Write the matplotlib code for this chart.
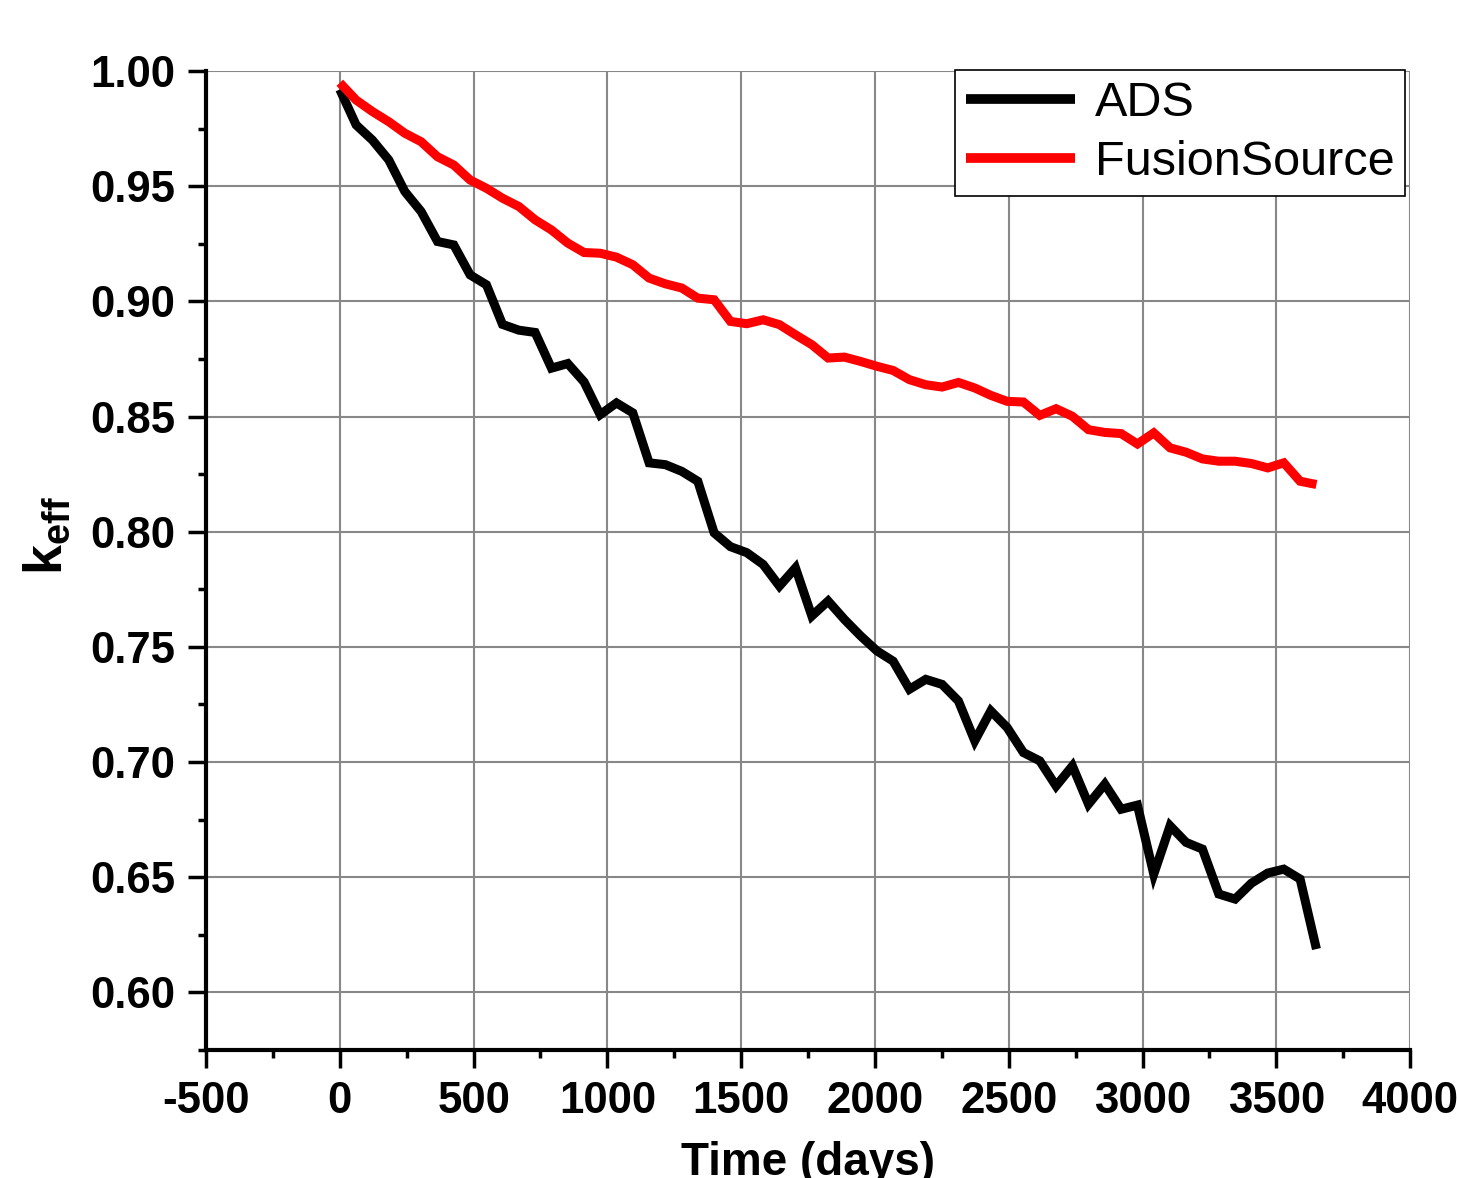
import matplotlib
matplotlib.use('Agg')
import matplotlib.pyplot as plt
from matplotlib.ticker import MultipleLocator, FormatStrFormatter

# burnup time steps (days)
time_days = [0, 61, 122, 183, 243, 304, 365, 426, 487, 548,
             608, 669, 730, 791, 852, 913, 973, 1034, 1095, 1156,
             1217, 1278, 1338, 1399, 1460, 1521, 1582, 1643, 1703, 1764,
             1825, 1886, 1947, 2008, 2068, 2129, 2190, 2251, 2312, 2373,
             2433, 2494, 2555, 2616, 2677, 2738, 2798, 2859, 2920, 2981,
             3042, 3103, 3163, 3224, 3285, 3346, 3407, 3468, 3528, 3589,
             3650]

keff_ads = [0.992, 0.9766, 0.970, 0.9614, 0.9477, 0.939, 0.926, 0.9245, 0.9115, 0.9072,
            0.890, 0.8875, 0.8865, 0.871, 0.873, 0.865, 0.8508, 0.8559, 0.8516, 0.8299,
            0.8291, 0.8262, 0.8219, 0.7995, 0.7935, 0.7909, 0.7858, 0.7764, 0.7843, 0.7634,
            0.7699, 0.7619, 0.7547, 0.7482, 0.7438, 0.7316, 0.7359, 0.7337, 0.7265, 0.7092,
            0.7222, 0.7150, 0.7041, 0.7005, 0.6896, 0.6983, 0.6817, 0.6904, 0.6795, 0.6813,
            0.6513, 0.6723, 0.6651, 0.6622, 0.6427, 0.6405, 0.6474, 0.6518, 0.6535, 0.6492,
            0.6188]

keff_fusion = [0.9949, 0.9874, 0.9824, 0.978, 0.973, 0.9693, 0.9628, 0.9592, 0.9527, 0.9491,
               0.9448, 0.9412, 0.9354, 0.9310, 0.9253, 0.9212, 0.9209, 0.9192, 0.9159, 0.9101,
               0.9076, 0.9058, 0.9014, 0.9007, 0.8913, 0.8903, 0.8920, 0.8899, 0.8855, 0.8812,
               0.8754, 0.8758, 0.8739, 0.8718, 0.8700, 0.8660, 0.8638, 0.8628, 0.8648, 0.8624,
               0.8592, 0.8566, 0.8563, 0.8505, 0.8534, 0.8501, 0.8443, 0.8431, 0.8426, 0.8381,
               0.8429, 0.8364, 0.8345, 0.8316, 0.8306, 0.8306, 0.8296, 0.8277, 0.8299, 0.8219,
               0.8205]

plt.rcParams['font.family'] = ['Liberation Sans', 'DejaVu Sans']
plt.rcParams['axes.unicode_minus'] = False
plt.rcParams['mathtext.fontset'] = 'custom'
plt.rcParams['mathtext.rm'] = 'Liberation Sans'
plt.rcParams['mathtext.bf'] = 'Liberation Sans:bold'

fig = plt.figure(figsize=(14.57, 11.78), dpi=100)
ax = fig.add_axes([0.1414, 0.1087, 0.8264, 0.8310])

line_kw = dict(lw=6.5, solid_capstyle='butt', solid_joinstyle='miter')
ax.plot(time_days, keff_ads, color='black', label='ADS', **line_kw)
ax.plot(time_days, keff_fusion, color='#ff0000', label='FusionSource', **line_kw)

ax.set_xlim(-500, 4000)
ax.set_ylim(0.575, 1.0)
ax.xaxis.set_major_locator(MultipleLocator(500))
ax.xaxis.set_minor_locator(MultipleLocator(250))
ax.yaxis.set_major_locator(MultipleLocator(0.05))
ax.yaxis.set_minor_locator(MultipleLocator(0.025))
ax.yaxis.set_major_formatter(FormatStrFormatter('%.2f'))

ax.grid(True, which='major', color='#888888', lw=1.5)
ax.set_axisbelow(True)

for side in ['top', 'right']:
    ax.spines[side].set_visible(False)
for side in ['left', 'bottom']:
    ax.spines[side].set_linewidth(3)

ax.tick_params(which='major', direction='out', length=13, width=2.5, pad=9,
               labelsize=31.5)
ax.tick_params(which='minor', direction='out', length=6, width=2.5)
for lab in ax.get_xticklabels() + ax.get_yticklabels():
    lab.set_fontweight('bold')

ax.set_xlabel('Time (days)', fontsize=33, fontweight='bold')
ax.xaxis.set_label_coords(0.5, -0.093)
ax.set_ylabel(r'$\mathbf{k}_{\mathbf{eff}}$', fontsize=39)
ax.yaxis.set_label_coords(-0.11, 0.526)

leg = ax.legend(loc='upper right', bbox_to_anchor=(0.996, 1.001), borderaxespad=0,
                fontsize=35, handlelength=2.25, handletextpad=0.4,
                labelspacing=0.3, borderpad=0.22, fancybox=False, framealpha=1)
leg.get_frame().set_edgecolor('black')
leg.get_frame().set_linewidth(1.2)
for h in leg.get_lines():
    h.set_linewidth(7)

fig.savefig('out.png', dpi=100)
